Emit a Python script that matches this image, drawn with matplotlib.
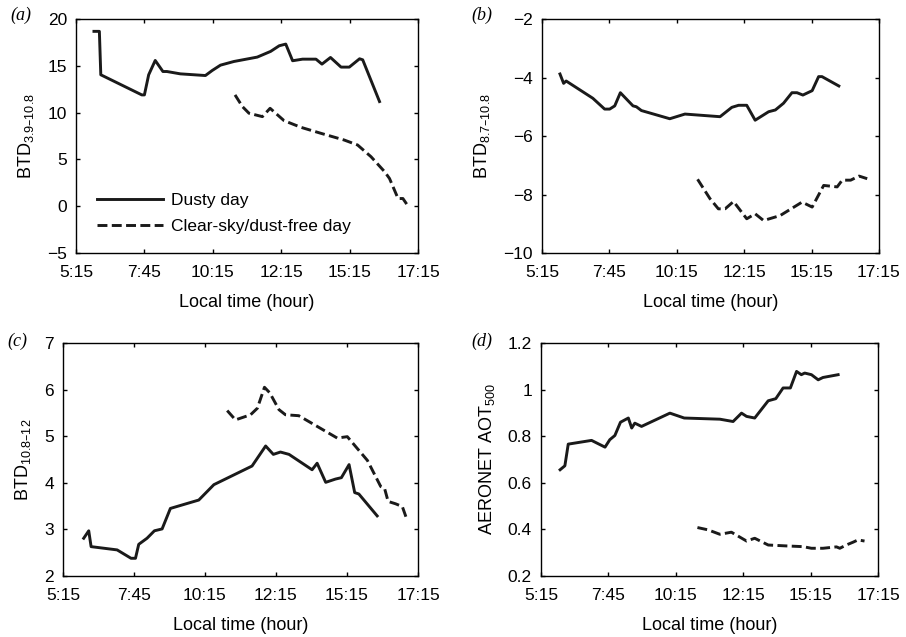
import numpy as np
import matplotlib
matplotlib.use('Agg')
import matplotlib.pyplot as plt

plt.rcParams['font.family'] = ['Liberation Sans', 'DejaVu Sans']
plt.rcParams['mathtext.default'] = 'regular'

# time in decimal hours
a_dust_t = [5.88, 6.07, 6.12, 7.56, 7.65, 7.80, 8.03, 8.30, 8.44, 8.91, 9.79, 10.03, 10.32, 10.79,
            11.61, 12.08, 12.38, 12.61, 12.85, 13.20, 13.67, 13.88, 14.18, 14.55, 14.84, 15.20, 15.31, 15.90]
a_dust_v = [18.68, 18.68, 14.04, 11.89, 11.89, 14.04, 15.57, 14.39, 14.39, 14.14, 13.96, 14.5, 15.07, 15.46,
            15.93, 16.54, 17.14, 17.32, 15.54, 15.71, 15.71, 15.18, 15.89, 14.86, 14.86, 15.75, 15.64, 11.18]
a_clear_t = [10.83, 11.09, 11.32, 11.79, 12.06, 12.55, 13.14, 13.84, 14.66, 15.13, 15.60, 16.08, 16.25,
             16.55, 16.72, 16.92]
a_clear_v = [11.89, 10.64, 9.93, 9.57, 10.46, 9.14, 8.43, 7.79, 7.07, 6.54, 5.29, 3.68, 2.96, 0.82, 0.82, -0.07]

b_dust_t = [5.89, 6.02, 6.11, 7.06, 7.48, 7.66, 7.84, 8.04, 8.49, 8.61, 8.79, 9.80, 10.34, 11.59, 12.01,
            12.25, 12.54, 12.84, 13.32, 13.56, 13.85, 14.15, 14.33, 14.54, 14.87, 15.10, 15.22, 15.82]
b_dust_v = [-3.88, -4.20, -4.12, -4.71, -5.08, -5.08, -4.97, -4.52, -4.97, -5.00, -5.13, -5.41, -5.25, -5.34,
            -5.02, -4.95, -4.95, -5.46, -5.17, -5.11, -4.88, -4.52, -4.52, -4.60, -4.45, -3.97, -3.97, -4.29]
b_clear_t = [10.79, 11.23, 11.53, 11.77, 12.07, 12.54, 12.84, 13.14, 13.73, 14.51, 14.87, 15.28, 15.76,
             15.94, 16.24, 16.54, 16.83]
b_clear_v = [-7.48, -8.14, -8.49, -8.49, -8.24, -8.83, -8.66, -8.89, -8.72, -8.26, -8.43, -7.69, -7.74,
             -7.51, -7.51, -7.37, -7.46]

c_dust_t = [5.95, 6.12, 6.20, 7.08, 7.55, 7.70, 7.81, 8.09, 8.34, 8.60, 8.88, 9.84, 10.35, 11.64, 12.10,
            12.36, 12.60, 12.89, 13.67, 13.84, 14.13, 14.46, 14.66, 14.92, 15.11, 15.25, 15.87]
c_dust_v = [2.81, 2.97, 2.63, 2.56, 2.38, 2.38, 2.68, 2.81, 2.97, 3.01, 3.45, 3.63, 3.96, 4.36, 4.79,
            4.61, 4.66, 4.61, 4.28, 4.42, 4.01, 4.08, 4.11, 4.39, 3.79, 3.76, 3.29]
c_clear_t = [10.80, 11.08, 11.59, 11.82, 12.06, 12.24, 12.55, 12.77, 13.22, 14.52, 14.86, 15.14, 15.54,
             15.99, 16.12, 16.24, 16.49, 16.72, 16.87]
c_clear_v = [5.55, 5.35, 5.46, 5.60, 6.05, 5.93, 5.57, 5.46, 5.44, 4.96, 4.99, 4.78, 4.48, 3.92, 3.88,
             3.60, 3.55, 3.49, 3.22]

d_dust_t = [5.93, 6.10, 6.22, 7.05, 7.53, 7.70, 7.88, 8.08, 8.36, 8.48, 8.59, 8.83, 9.84, 10.35, 11.62,
            12.09, 12.39, 12.57, 12.86, 13.34, 13.61, 13.87, 14.13, 14.35, 14.52, 14.64, 14.88, 15.12,
            15.29, 15.83]
d_dust_v = [0.656, 0.673, 0.766, 0.782, 0.753, 0.785, 0.803, 0.860, 0.878, 0.835, 0.856, 0.842, 0.899,
            0.878, 0.873, 0.863, 0.899, 0.885, 0.878, 0.952, 0.961, 1.007, 1.007, 1.078, 1.064, 1.071,
            1.064, 1.042, 1.052, 1.064]
d_clear_t = [10.82, 11.20, 11.62, 12.03, 12.57, 12.86, 13.34, 14.00, 14.58, 14.88, 15.29, 15.77, 15.89,
             16.12, 16.36, 16.54, 16.77]
d_clear_v = [0.408, 0.398, 0.379, 0.388, 0.350, 0.362, 0.333, 0.329, 0.326, 0.319, 0.319, 0.325, 0.319,
             0.333, 0.345, 0.355, 0.350]

xtick_labels = ['5:15', '7:45', '10:15', '12:15', '15:15', '17:15']

W, H = 906, 637
fig = plt.figure(figsize=(W / 100, H / 100), dpi=100)

def add_axes(l, r, t, b):
    return fig.add_axes([l / W, 1 - b / H, (r - l) / W, (b - t) / H])

# axes box in pixels, tag position in pixels
panels = [
    ((76, 418, 19, 253), (10, 15), '(a)', a_dust_t, a_dust_v, a_clear_t, a_clear_v,
     'BTD$_{3.9–10.8}$', (-5, 20), np.arange(-5, 21, 5)),
    ((542, 879, 19, 253), (471, 15), '(b)', b_dust_t, b_dust_v, b_clear_t, b_clear_v,
     'BTD$_{8.7–10.8}$', (-10, -2), np.arange(-10, -1, 2)),
    ((63, 418, 343, 576), (7, 341), '(c)', c_dust_t, c_dust_v, c_clear_t, c_clear_v,
     'BTD$_{10.8–12}$', (2, 7), np.arange(2, 8, 1)),
    ((541, 878, 343, 576), (471, 341), '(d)', d_dust_t, d_dust_v, d_clear_t, d_clear_v,
     'AERONET AOT$_{500}$', (0.2, 1.2), [0.2, 0.4, 0.6, 0.8, 1.0, 1.2]),
]

for box, tagpos, tag, dt, dv, ct, cv, ylab, ylim, yt in panels:
    ax = add_axes(*box)
    ax.plot(dt, dv, color='#1a1a1a', lw=2.1, label='Dusty day')
    ax.plot(ct, cv, color='#1a1a1a', lw=2.1, linestyle=(0, (3.4, 1.5)), label='Clear-sky/dust-free day')
    ax.set_xlim(5.25, 17.25)
    ax.set_ylim(*ylim)
    ax.set_xticks(np.linspace(5.25, 17.25, 6))
    ax.set_xticklabels(xtick_labels)
    ax.set_yticks(yt)
    if tag == '(d)':
        ax.set_yticklabels(['0.2', '0.4', '0.6', '0.8', '1', '1.2'])
    ax.tick_params(direction='in', top=True, right=True, length=3, width=1, labelsize=12.5)
    ax.tick_params(axis='x', pad=8.5)
    ax.tick_params(axis='y', pad=6.5)
    for s in ax.spines.values():
        s.set_linewidth(1.0)
    ax.set_xlabel('Local time (hour)', fontsize=13, labelpad=10)
    ax.set_ylabel(ylab, fontsize=13, labelpad=8)
    fig.text(tagpos[0] / W, 1 - tagpos[1] / H, tag,
             family='Liberation Serif', style='italic', fontsize=13, ha='left', va='center')
    if tag == '(a)':
        ax.legend(loc='lower left', bbox_to_anchor=(0.04, 0.05), frameon=False, fontsize=12.5,
                  handlelength=3.8, handletextpad=0.5, labelspacing=0.65, borderaxespad=0)

fig.savefig('out.png', dpi=100)
